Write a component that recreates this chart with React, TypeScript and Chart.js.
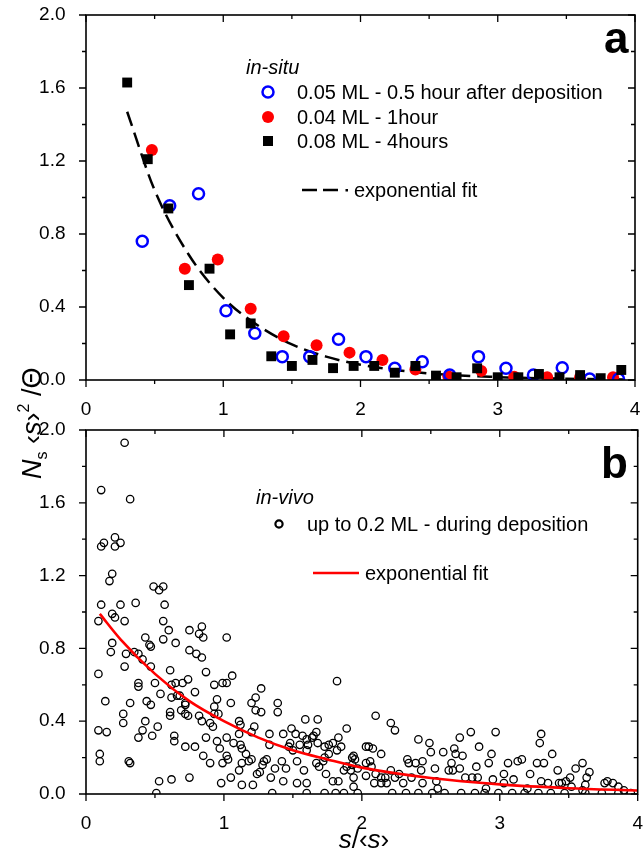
import React, { useEffect, useRef } from "react";
import { Chart, registerables } from "chart.js";

Chart.register(...registerables);

const FONT = "'Liberation Sans', Arial, Helvetica, sans-serif";

// ---------- axis ticks ----------
const X_TICKS = [0, 1, 2, 3, 4];
const X_MINOR = [0.5, 1.5, 2.5, 3.5];
const Y_TICKS = [0, 0.4, 0.8, 1.2, 1.6, 2.0];
const Y_MINOR = [0.2, 0.6, 1.0, 1.4, 1.8];

// ---------- panel a (in-situ) ----------
const SQ_X = [0.3, 0.45, 0.6, 0.75, 0.9, 1.05, 1.2, 1.35, 1.5, 1.65, 1.8, 1.95, 2.1, 2.25, 2.4, 2.55, 2.7, 2.85, 3.0, 3.15, 3.3, 3.45, 3.6, 3.75, 3.9];
const SQ_Y = [1.63, 1.21, 0.94, 0.52, 0.61, 0.25, 0.31, 0.13, 0.077, 0.11, 0.065, 0.077, 0.077, 0.04, 0.077, 0.024, 0.015, 0.064, 0.015, 0.015, 0.033, 0.015, 0.027, 0.01, 0.055];

const RED_X = [0.48, 0.72, 0.96, 1.2, 1.44, 1.68, 1.92, 2.16, 2.4, 2.64, 2.88, 3.12, 3.36, 3.6, 3.84];
const RED_Y = [1.26, 0.61, 0.66, 0.39, 0.24, 0.19, 0.15, 0.11, 0.058, 0.02, 0.05, 0.018, 0.015, 0.015, 0.015];

const BLUE_X = [0.41, 0.61, 0.82, 1.02, 1.23, 1.43, 1.63, 1.84, 2.04, 2.25, 2.45, 2.65, 2.86, 3.06, 3.26, 3.47, 3.67, 3.88];
const BLUE_Y = [0.76, 0.955, 1.02, 0.38, 0.256, 0.128, 0.128, 0.223, 0.128, 0.064, 0.1, 0.027, 0.128, 0.064, 0.027, 0.067, 0.005, 0.005];

const FIT_A_X = [0.3, 0.5, 0.75, 1.0, 1.25, 1.5, 1.75, 2.0, 2.5, 3.0, 3.5, 3.95];
const FIT_A_Y = [1.47, 1.04, 0.685, 0.45, 0.3, 0.195, 0.128, 0.084, 0.036, 0.016, 0.007, 0.003];

// ---------- panel b (in-vivo) ----------
const B_X = [
  0.28, 0.11, 0.32, 0.11, 0.13, 0.21, 0.21, 0.25, 0.19, 0.17,
  0.11, 0.09, 0.19, 0.21, 0.25, 0.28, 0.36, 0.49, 0.53, 0.56,
  0.57, 0.56, 0.6, 0.56, 0.65, 0.43, 0.46, 0.47, 0.19, 0.18,
  0.29, 0.28, 0.35, 0.38, 0.41, 0.47, 0.38, 0.38, 0.5, 0.54,
  0.61, 0.62, 0.66, 0.62, 0.65, 0.7, 0.74, 0.72, 0.79, 0.75,
  0.82, 0.84, 0.85, 0.75, 0.8, 0.84, 0.87, 1.02, 0.93, 0.99,
  1.02, 1.06, 1.27, 1.2, 1.23, 1.23, 1.27, 1.39, 1.39, 0.95,
  0.93, 0.93, 0.96, 1.05, 0.14, 0.09, 0.27, 0.27, 0.32, 0.09,
  0.15, 0.1, 0.1, 0.31, 0.32, 0.38, 0.41, 0.43, 0.44, 0.47,
  0.48, 0.52, 0.61, 0.61, 0.64, 0.64, 0.68, 0.72, 0.69, 0.72,
  0.74, 0.72, 0.79, 0.82, 0.84, 0.87, 0.85, 0.9, 0.92, 0.9,
  0.95, 0.97, 0.99, 1.02, 1.02, 1.03, 1.07, 1.11, 1.11, 1.12,
  1.13, 1.16, 1.11, 1.13, 1.18, 1.2, 1.2, 1.22, 1.24, 1.26,
  1.28, 1.29, 1.31, 1.33, 1.33, 1.34, 1.37, 0.98, 1.05, 1.13,
  1.21, 1.12, 0.53, 0.62, 0.75, 0.51, 1.35,
  1.82, 2.1, 2.21, 2.24, 1.59, 1.68, 1.89, 1.67, 1.65, 1.57,
  1.6, 1.64, 1.68, 1.52, 1.49, 1.43, 1.48, 1.5, 1.47, 1.55,
  1.61, 1.6, 1.53, 1.42, 1.45, 1.43, 1.53, 1.58, 1.6, 1.67,
  1.69, 1.73, 1.76, 1.79, 1.83, 1.85, 1.82, 1.76, 1.73, 1.72,
  1.74, 1.79, 1.83, 1.87, 1.89, 1.92, 1.93, 1.94, 1.95, 1.93,
  1.97, 1.94, 1.94, 2.03, 2.05, 2.08, 2.14, 2.03, 2.06, 2.03,
  2.07, 2.1, 2.09, 2.14, 2.14, 2.17, 2.18, 2.21, 2.24, 2.27,
  2.3, 2.33, 2.34, 2.36, 2.39, 2.41, 2.44, 2.43, 2.44, 2.49,
  2.5, 2.53, 2.54, 2.59, 2.63, 2.65, 2.66, 2.67, 2.68, 2.71,
  2.73, 2.71, 2.75, 2.79, 2.83, 2.85, 2.8, 2.84, 2.92, 2.94,
  2.97, 2.95, 3.03, 3.06, 3.03, 3.13, 3.16, 3.1, 3.22, 3.27,
  3.3, 3.29, 3.32, 3.38, 3.3, 3.35, 3.42, 3.45, 3.48, 3.51,
  3.55, 3.6, 3.65, 3.63, 3.62, 3.76, 3.78, 3.82, 3.86, 3.43,
  3.52,
  1.6, 1.73, 1.81, 1.87, 1.97, 2.22, 2.32, 2.41, 2.51, 2.6,
  2.72, 2.82, 2.89, 2.99, 3.09, 3.18, 3.28, 3.37, 3.47, 3.62,
  3.74, 3.86, 3.95, 2.55, 2.9, 3.2, 3.6, 3.9,
];
const B_Y = [
  1.93, 1.67, 1.62, 1.36, 1.38, 1.41, 1.36, 1.38, 1.21, 1.17,
  1.04, 0.95, 0.99, 0.97, 1.04, 0.95, 1.05, 1.14, 1.12, 1.14,
  1.04, 0.95, 0.9, 0.85, 0.83, 0.86, 0.82, 0.81, 0.83, 0.78,
  0.77, 0.7, 0.78, 0.77, 0.74, 0.7, 0.61, 0.59, 0.61, 0.55,
  0.68, 0.6, 0.54, 0.53, 0.61, 0.61, 0.63, 0.5, 0.56, 0.9,
  0.88, 0.92, 0.86, 0.79, 0.77, 0.75, 0.67, 0.86, 0.6, 0.61,
  0.61, 0.65, 0.58, 0.5, 0.53, 0.46, 0.45, 0.5, 0.45, 0.52,
  0.48, 0.44, 0.44, 0.5, 0.51, 0.66, 0.44, 0.39, 0.5, 0.35,
  0.34, 0.22, 0.18, 0.18, 0.17, 0.31, 0.35, 0.4, 0.51, 0.49,
  0.32, 0.37, 0.43, 0.45, 0.32, 0.29, 0.54, 0.49, 0.46, 0.44,
  0.43, 0.26, 0.26, 0.43, 0.4, 0.31, 0.21, 0.39, 0.37, 0.17,
  0.29, 0.25, 0.17, 0.31, 0.21, 0.19, 0.28, 0.33, 0.4, 0.27,
  0.25, 0.22, 0.13, 0.17, 0.18, 0.19, 0.34, 0.37, 0.11, 0.12,
  0.16, 0.18, 0.19, 0.27, 0.33, 0.09, 0.14, 0.06, 0.09, 0.05,
  0.05, 0.38, 0.07, 0.08, 0.09, 0.005, 0.005,
  0.62, 0.43, 0.39, 0.35, 0.41, 0.41, 0.36, 0.34, 0.32, 0.32,
  0.3, 0.31, 0.28, 0.33, 0.36, 0.33, 0.28, 0.24, 0.26, 0.27,
  0.27, 0.24, 0.18, 0.18, 0.14, 0.07, 0.06, 0.13, 0.06, 0.17,
  0.15, 0.26, 0.27, 0.28, 0.31, 0.26, 0.24, 0.22, 0.2, 0.18,
  0.11, 0.07, 0.07, 0.13, 0.15, 0.13, 0.2, 0.21, 0.19, 0.16,
  0.14, 0.09, 0.04, 0.26, 0.26, 0.25, 0.22, 0.17, 0.18, 0.1,
  0.15, 0.11, 0.06, 0.09, 0.06, 0.09, 0.06, 0.13, 0.09, 0.11,
  0.06, 0.19, 0.17, 0.09, 0.17, 0.3, 0.18, 0.13, 0.06, 0.28,
  0.23, 0.14, 0.07, 0.23, 0.13, 0.17, 0.13, 0.25, 0.22, 0.31,
  0.21, 0.14, 0.09, 0.34, 0.15, 0.26, 0.09, 0.09, 0.17, 0.22,
  0.34, 0.08, 0.11, 0.17, 0.06, 0.18, 0.19, 0.08, 0.11, 0.17,
  0.33, 0.28, 0.17, 0.22, 0.07, 0.06, 0.13, 0.06, 0.07, 0.09,
  0.14, 0.17, 0.12, 0.09, 0.05, 0.06, 0.07, 0.06, 0.04, 0.06,
  0.04,
  0.005, 0.005, 0.005, 0.005, 0.005, 0.005, 0.005, 0.005, 0.005, 0.005,
  0.005, 0.005, 0.005, 0.005, 0.005, 0.005, 0.005, 0.005, 0.005, 0.005,
  0.005, 0.005, 0.005, 0.03, 0.03, 0.03, 0.02, 0.02,
];

const FIT_B_X = [0.1, 0.25, 0.5, 0.75, 1.0, 1.25, 1.5, 1.75, 2.0, 2.5, 3.0, 3.5, 4.0];
const FIT_B_Y = [0.99, 0.85, 0.66, 0.51, 0.4, 0.31, 0.24, 0.19, 0.145, 0.088, 0.053, 0.032, 0.019];

const pts = (xs: number[], ys: number[]) => xs.map((x, i) => ({ x, y: ys[i] }));

// ---------- plugins ----------
const framePlugin = {
  id: "frame",
  afterDatasetsDraw(chart: any) {
    const { ctx, chartArea: a } = chart;
    const xs = chart.scales.x;
    const ys = chart.scales.y;
    ctx.save();
    ctx.strokeStyle = "#000";
    ctx.lineWidth = 1.6;
    ctx.strokeRect(a.left, a.top, a.right - a.left, a.bottom - a.top);
    ctx.lineWidth = 1.3;
    ctx.beginPath();
    const xt: [number, number][] = [...X_TICKS.map((v) => [v, 7] as [number, number]), ...X_MINOR.map((v) => [v, 4] as [number, number])];
    for (const [v, len] of xt) {
      const p = xs.getPixelForValue(v);
      ctx.moveTo(p, a.bottom);
      ctx.lineTo(p, a.bottom + len);
      ctx.moveTo(p, a.top);
      ctx.lineTo(p, a.top + len);
    }
    const yt: [number, number][] = [...Y_TICKS.map((v) => [v, 7] as [number, number]), ...Y_MINOR.map((v) => [v, 4] as [number, number])];
    for (const [v, len] of yt) {
      const p = ys.getPixelForValue(v);
      ctx.moveTo(a.left, p);
      ctx.lineTo(a.left - len, p);
      ctx.moveTo(a.right, p);
      ctx.lineTo(a.right - len, p);
    }
    ctx.stroke();
    ctx.restore();
  },
};

function textRun(ctx: CanvasRenderingContext2D, x: number, y: number, parts: { t: string; f: string; dy: number }[], center: boolean) {
  let total = 0;
  for (const p of parts) {
    ctx.font = p.f;
    total += ctx.measureText(p.t).width;
  }
  let cx = center ? x - total / 2 : x;
  for (const p of parts) {
    ctx.font = p.f;
    ctx.fillText(p.t, cx, y + p.dy);
    cx += ctx.measureText(p.t).width;
  }
}

const decoA = {
  id: "decoA",
  afterDraw(chart: any) {
    const ctx: CanvasRenderingContext2D = chart.ctx;
    ctx.save();
    ctx.fillStyle = "#000";
    ctx.textBaseline = "alphabetic";
    ctx.textAlign = "left";
    ctx.font = `bold 44px ${FONT}`;
    ctx.fillText("a", 604, 53);
    ctx.font = `italic 20px ${FONT}`;
    ctx.fillText("in-situ", 246, 74);
    ctx.font = `20px ${FONT}`;
    ctx.textBaseline = "middle";
    // legend: blue open circle
    ctx.beginPath();
    ctx.arc(268, 92, 5.5, 0, Math.PI * 2);
    ctx.strokeStyle = "#0000ff";
    ctx.lineWidth = 2.5;
    ctx.stroke();
    ctx.fillText("0.05 ML - 0.5 hour after deposition", 297, 93);
    // red filled circle
    ctx.beginPath();
    ctx.arc(268, 117, 6, 0, Math.PI * 2);
    ctx.fillStyle = "#ff0000";
    ctx.fill();
    ctx.fillStyle = "#000";
    ctx.fillText("0.04 ML - 1hour", 297, 118);
    // black square
    ctx.fillRect(263, 136, 10, 10);
    ctx.fillText("0.08 ML - 4hours", 297, 142);
    // dashed fit
    ctx.beginPath();
    ctx.setLineDash([15, 6]);
    ctx.moveTo(302, 190);
    ctx.lineTo(338, 190);
    ctx.strokeStyle = "#000";
    ctx.lineWidth = 2.5;
    ctx.stroke();
    ctx.setLineDash([]);
    ctx.fillRect(345.5, 189, 2.5, 2.5);
    ctx.fillText("exponential fit", 354, 191);

    // y-axis title (rotated, spans both panels)
    ctx.save();
    ctx.translate(41, 479);
    ctx.rotate(-Math.PI / 2);
    ctx.textBaseline = "alphabetic";
    textRun(ctx, 0, 0, [
      { t: "N", f: `italic 27px ${FONT}`, dy: 0 },
      { t: "s", f: `16px ${FONT}`, dy: 6 },
      { t: " \u2039", f: `27px ${FONT}`, dy: 0 },
      { t: "s", f: `italic 27px ${FONT}`, dy: 0 },
      { t: "\u203A", f: `27px ${FONT}`, dy: 0 },
      { t: "2", f: `16px ${FONT}`, dy: -12 },
      { t: " /\u0398", f: `27px ${FONT}`, dy: 0 },
    ], false);
    ctx.restore();
    ctx.restore();
  },
};

const decoB = {
  id: "decoB",
  afterDraw(chart: any) {
    const ctx: CanvasRenderingContext2D = chart.ctx;
    ctx.save();
    ctx.fillStyle = "#000";
    ctx.textAlign = "left";
    ctx.textBaseline = "alphabetic";
    ctx.font = `bold 44px ${FONT}`;
    ctx.fillText("b", 601, 478);
    ctx.font = `italic 20px ${FONT}`;
    ctx.fillText("in-vivo", 256, 504);
    ctx.font = `20px ${FONT}`;
    ctx.textBaseline = "middle";
    ctx.beginPath();
    ctx.arc(279, 524, 3.6, 0, Math.PI * 2);
    ctx.strokeStyle = "#000";
    ctx.lineWidth = 2.2;
    ctx.stroke();
    ctx.fillText("up to 0.2 ML - during deposition", 307, 525);
    ctx.beginPath();
    ctx.moveTo(313, 573);
    ctx.lineTo(359, 573);
    ctx.strokeStyle = "#ff0000";
    ctx.lineWidth = 2.5;
    ctx.stroke();
    ctx.fillText("exponential fit", 365, 574);
    // x-axis title
    ctx.textBaseline = "alphabetic";
    textRun(ctx, 364, 848, [
      { t: "s", f: `italic 26px ${FONT}`, dy: 0 },
      { t: "/\u2039", f: `26px ${FONT}`, dy: 0 },
      { t: "s", f: `italic 26px ${FONT}`, dy: 0 },
      { t: "\u203A", f: `26px ${FONT}`, dy: 0 },
    ], true);
    ctx.restore();
  },
};

function makeScales(xHeight: number) {
  return {
    x: {
      type: "linear",
      min: 0,
      max: 4,
      afterBuildTicks: (s: any) => {
        s.ticks = X_TICKS.map((v) => ({ value: v }));
      },
      ticks: { padding: 10, color: "#000", font: { size: 19, family: FONT }, callback: (v: any) => String(v) },
      grid: { display: false },
      border: { display: false },
      afterFit: (s: any) => {
        s.height = xHeight;
        s.paddingLeft = 0;
        s.paddingRight = 0;
      },
    },
    y: {
      type: "linear",
      min: 0,
      max: 2,
      afterBuildTicks: (s: any) => {
        s.ticks = Y_TICKS.map((v) => ({ value: v }));
      },
      ticks: { padding: 12.5, color: "#000", font: { size: 19, family: FONT }, callback: (v: any) => Number(v).toFixed(1) },
      grid: { display: false },
      border: { display: false },
      afterFit: (s: any) => {
        s.width = 86;
        s.paddingTop = 0;
        s.paddingBottom = 0;
      },
    },
  };
}

export default function App() {
  const refA = useRef<HTMLCanvasElement>(null);
  const refB = useRef<HTMLCanvasElement>(null);

  useEffect(() => {
    document.body.style.margin = "0";
    Chart.defaults.font.family = FONT;
    Chart.defaults.color = "#000";

    const chartA = new Chart(refA.current as HTMLCanvasElement, {
      type: "scatter",
      data: {
        datasets: [
          {
            label: "0.08 ML - 4hours",
            data: pts(SQ_X, SQ_Y),
            pointStyle: "rect",
            pointRadius: 7,
            backgroundColor: "#000",
            borderColor: "#000",
            borderWidth: 0,
          },
          {
            label: "0.05 ML - 0.5 hour after deposition",
            data: pts(BLUE_X, BLUE_Y),
            pointStyle: "circle",
            pointRadius: 5.5,
            borderWidth: 2.5,
            borderColor: "#0000ff",
            backgroundColor: "rgba(0,0,0,0)",
          },
          {
            label: "0.04 ML - 1hour",
            data: pts(RED_X, RED_Y),
            pointStyle: "circle",
            pointRadius: 6,
            borderWidth: 0,
            backgroundColor: "#ff0000",
            borderColor: "#ff0000",
          },
          {
            label: "exponential fit",
            data: pts(FIT_A_X, FIT_A_Y),
            showLine: true,
            pointRadius: 0,
            borderColor: "#000",
            borderWidth: 2.5,
            borderDash: [15, 7],
            cubicInterpolationMode: "monotone",
            fill: false,
          } as any,
        ],
      },
      options: {
        responsive: false,
        animation: false,
        devicePixelRatio: 1,
        layout: { padding: { left: 0, right: 3, top: 15, bottom: 0 } },
        plugins: { legend: { display: false }, tooltip: { enabled: false } },
        scales: makeScales(855 - 380) as any,
      },
      plugins: [framePlugin, decoA],
    });

    const chartB = new Chart(refB.current as HTMLCanvasElement, {
      type: "scatter",
      data: {
        datasets: [
          {
            label: "exponential fit",
            data: pts(FIT_B_X, FIT_B_Y),
            showLine: true,
            pointRadius: 0,
            borderColor: "#ff0000",
            borderWidth: 2.6,
            cubicInterpolationMode: "monotone",
            fill: false,
          } as any,
          {
            label: "up to 0.2 ML - during deposition",
            data: pts(B_X, B_Y),
            pointStyle: "circle",
            pointRadius: 3.7,
            borderWidth: 1.3,
            borderColor: "#000",
            backgroundColor: "rgba(0,0,0,0)",
          },
        ],
      },
      options: {
        responsive: false,
        animation: false,
        devicePixelRatio: 1,
        layout: { padding: { left: 0, right: 3, top: 430, bottom: 0 } },
        plugins: { legend: { display: false }, tooltip: { enabled: false } },
        scales: makeScales(855 - 794) as any,
      },
      plugins: [framePlugin, decoB],
    });

    return () => {
      chartA.destroy();
      chartB.destroy();
    };
  }, []);

  return (
    <div style={{ position: "relative", width: 643, height: 855, background: "#fff", overflow: "hidden" }}>
      <canvas ref={refA} width={643} height={855} style={{ position: "absolute", left: 0, top: 0 }} />
      <canvas ref={refB} width={643} height={855} style={{ position: "absolute", left: 0, top: 0 }} />
    </div>
  );
}
